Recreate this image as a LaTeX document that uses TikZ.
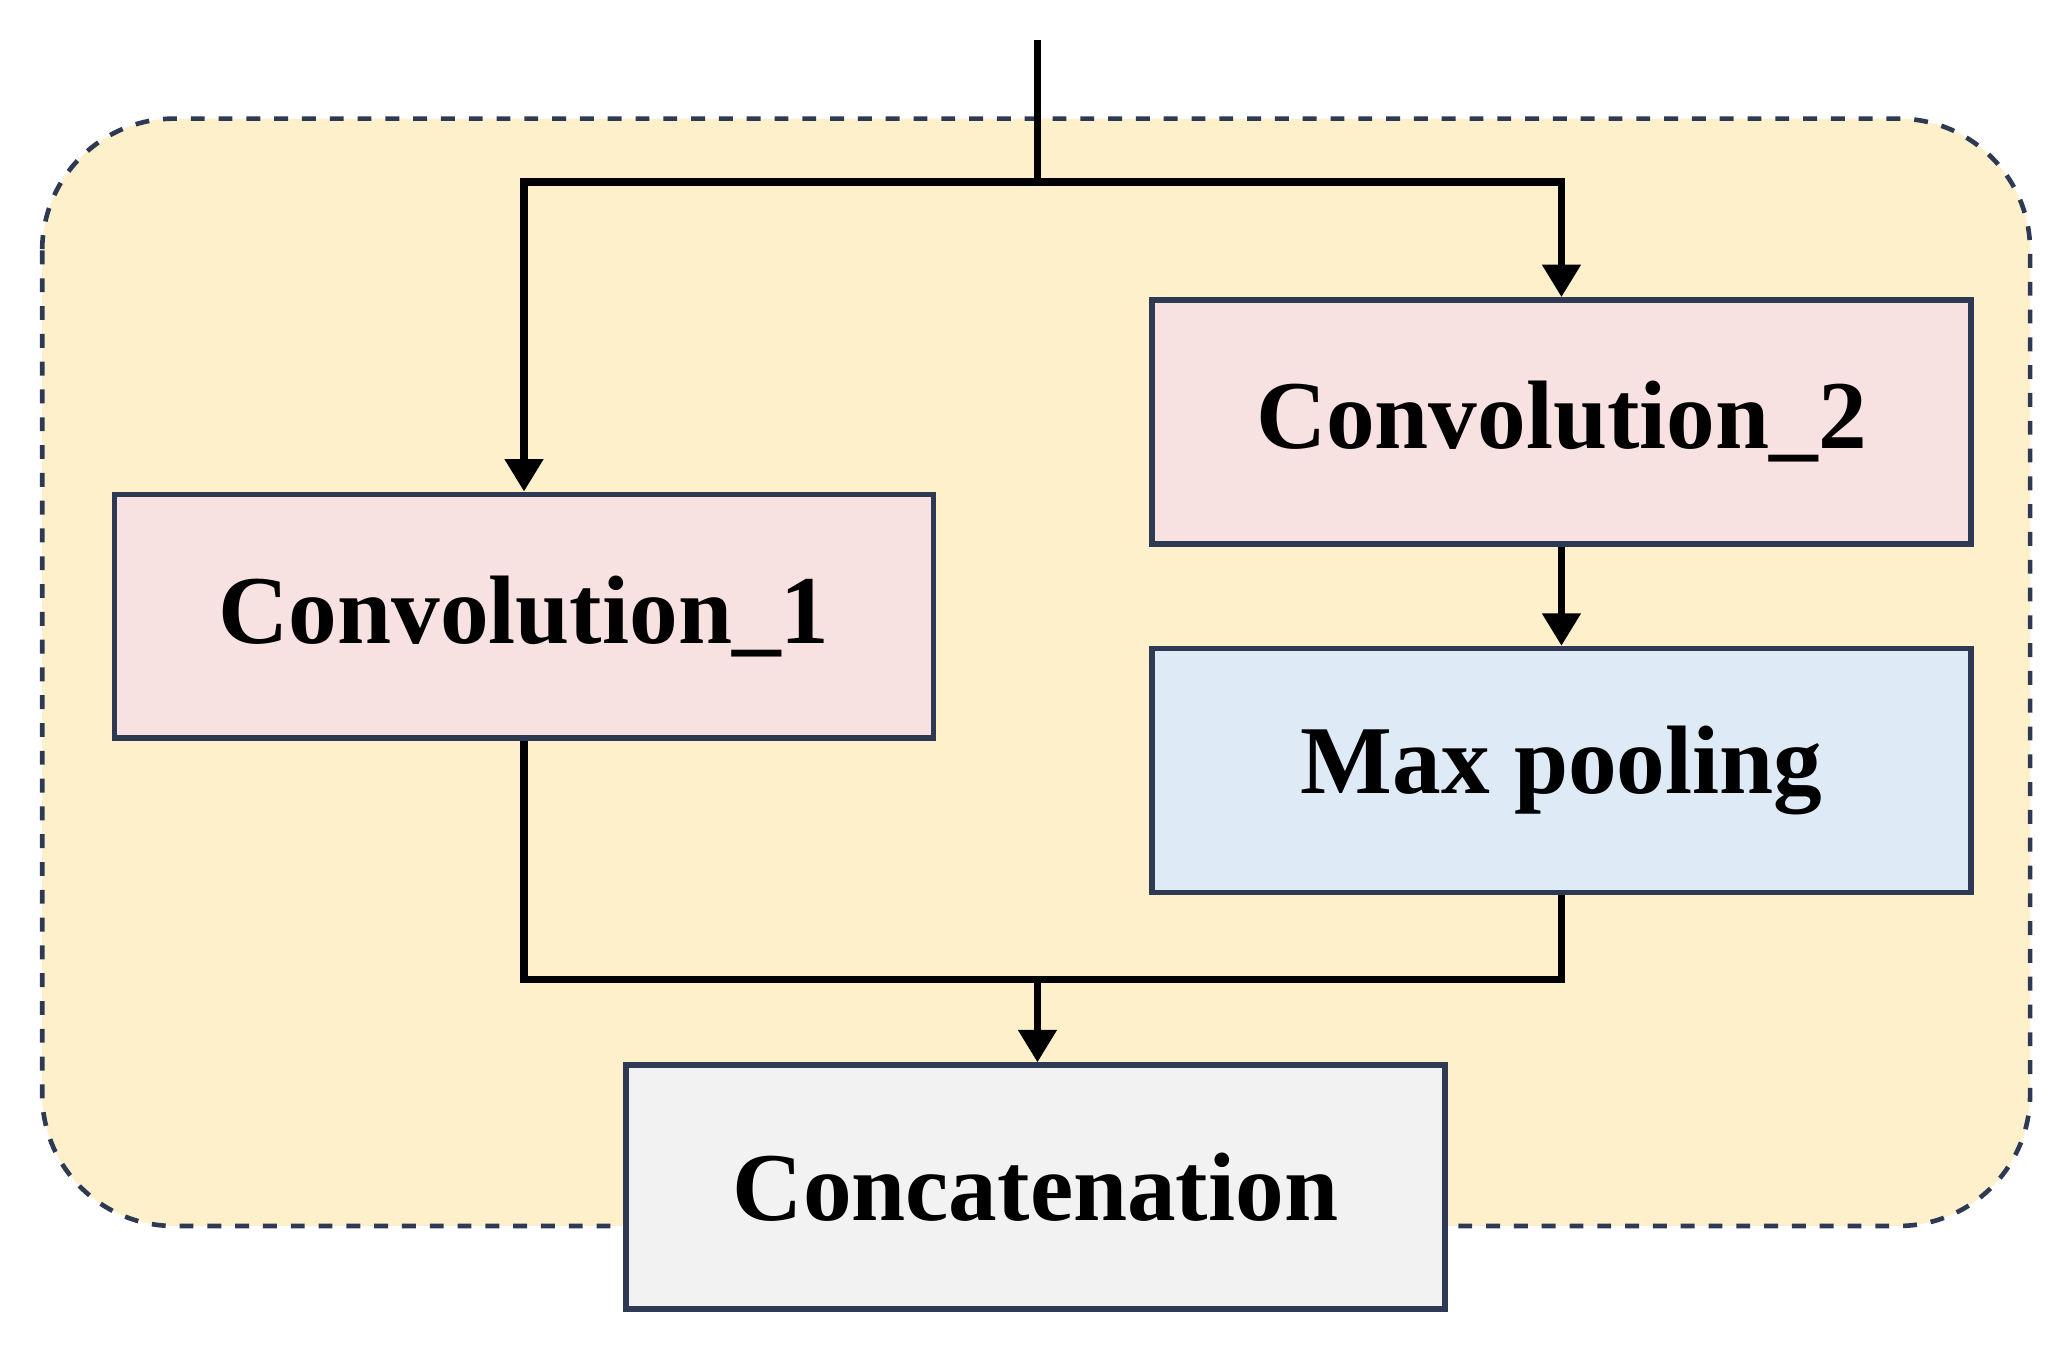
\documentclass[tikz,border=0pt]{standalone}
\usepackage{fontspec}
\setmainfont{Liberation Serif}
\definecolor{blockyellow}{RGB}{255,240,204}
\definecolor{blockline}{RGB}{46,58,84}
\definecolor{convpink}{RGB}{248,225,225}
\definecolor{poolblue}{RGB}{222,234,246}
\definecolor{concatgray}{RGB}{242,242,242}
\usetikzlibrary{arrows.meta,positioning,calc}

\begin{document}
\begin{tikzpicture}[
    box/.style={draw=blockline, line width=1.2pt, minimum width=6.21cm, minimum height=1.85cm,
        font=\fontsize{21}{25}\selectfont\bfseries},
    flow/.style={line width=1.6pt},
    arr/.style={flow, -{Triangle[length=7pt,width=8pt]}}
]
    \useasboundingbox (0,0) rectangle (15.68,-10.25);
    % Module frame
    \draw[blockline, dashed, line width=1pt, fill=blockyellow, rounded corners=1cm]
        (0.32,-0.90) rectangle (15.40,-9.30);

    % Blocks
    \node[box, fill=convpink] (conv1) at (3.975,-4.675) {Convolution\_1};
    \node[box, fill=convpink] (conv2) at (11.845,-3.20) {Convolution\_2};
    \node[box, fill=poolblue] (pool) at (11.845,-5.845) {Max pooling};
    \node[box, fill=concatgray] (concat) at (7.855,-9.005) {Concatenation};

    % Split point and merge point
    \coordinate (input) at (7.87,-0.30);
    \coordinate (split) at (7.87,-1.38);
    \coordinate (merge) at (7.87,-7.43);

    % Arrows
    \draw[flow] (input) -- (split);
    \draw[arr] (split) -| (conv1.north);
    \draw[arr] (split) -| (conv2.north);
    \draw[arr] (conv2) -- (pool);
    \draw[flow] (conv1.south) |- (merge) -| (pool.south);
    \draw[arr] (merge) -- (concat.north -| merge);
\end{tikzpicture}
\end{document}
